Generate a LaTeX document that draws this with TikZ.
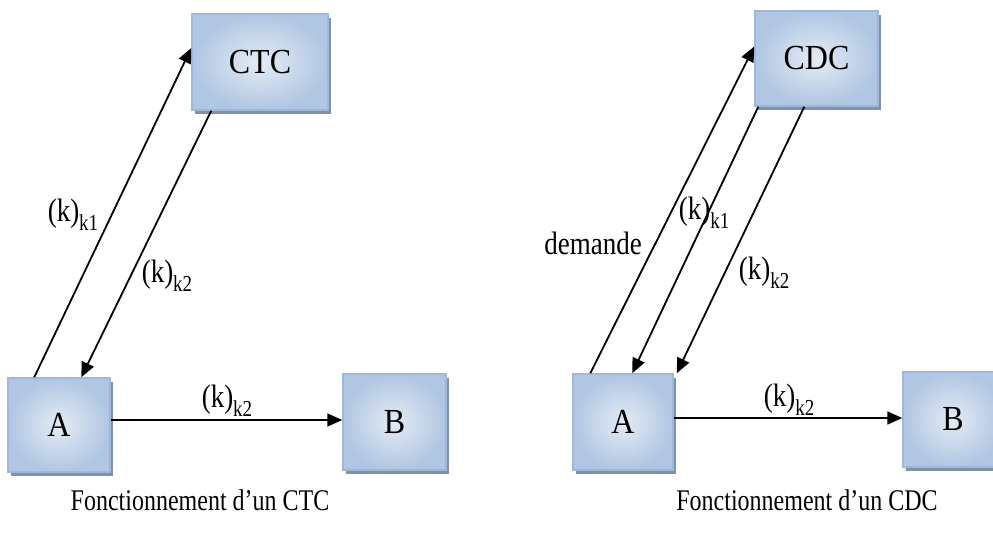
\documentclass[tikz,border=0pt]{standalone}
\usepackage{fontspec}
\setmainfont{Liberation Serif}
\usetikzlibrary{arrows.meta,shadows,calc}
\definecolor{boxedge}{HTML}{9DB8DA}
\definecolor{boxin}{HTML}{E4EBF5}
\definecolor{boxout}{HTML}{B0C6E2}
\definecolor{shadowgray}{HTML}{8391A5}
\newcommand{\kk}[1]{\scalebox{1}[1.2]{(k)\raisebox{-0.28em}{\fontsize{19}{19}\selectfont k#1}}}
\newcommand{\tall}[2]{\scalebox{1}[#1]{#2}}
\tikzset{
  blockbox/.style={draw=boxedge, line width=1.5pt, inner sep=0pt,
    inner color=boxin, outer color=boxout,
    general shadow={fill=shadowgray, shadow xshift=3pt, shadow yshift=-4pt},
    font=\fontsize{32}{32}\selectfont},
  flow/.style={line width=1.8pt, -{Triangle[length=15pt,width=13pt]}},
  lbl/.style={inner sep=0pt, font=\fontsize{27}{27}\selectfont},
  caption/.style={inner sep=0pt, font=\fontsize{24}{24}\selectfont}
}
\begin{document}
\begin{tikzpicture}[x=1pt,y=-1pt]
\useasboundingbox (0,0) rectangle (993,534);
\clip (0,0) rectangle (993,534);
% left diagram
\node[blockbox, minimum width=136pt, minimum height=96pt] (ctc) at (260,62) {\tall{1.1}{CTC}};
\node[blockbox, minimum width=102pt, minimum height=94pt] (aL) at (59,425) {\tall{1.1}{A}};
\node[blockbox, minimum width=103pt, minimum height=96pt] (bL) at (394.5,422) {\tall{1.1}{B}};
\draw[flow] ([xshift=27pt]aL.north west) -- ([yshift=14pt]ctc.west);
\draw[flow] ([xshift=20pt]ctc.south west) -- ([xshift=74pt]aL.north west);
\draw[flow] ([yshift=5pt]aL.east) -- ([yshift=5pt]aL.east -| bL.west);
\node[lbl] (l1) at (73,215) {\kk{1}};
\node[lbl] (l2) at (167,276) {\kk{2}};
\node[lbl] (l3) at (227,401) {\kk{2}};
\node[caption] (c1) at (200,500) {\tall{1.25}{Fonctionnement d’un CTC}};
% right diagram
\node[blockbox, minimum width=123pt, minimum height=95pt] (cdc) at (816.5,58.5) {\tall{1.1}{CDC}};
\node[blockbox, minimum width=100pt, minimum height=96pt] (aR) at (623,422) {\tall{1.1}{A}};
\node[blockbox, minimum width=100pt, minimum height=95pt] (bR) at (953,419.5) {\tall{1.1}{B}};
\draw[flow] ([xshift=18pt]aR.north west) -- ([yshift=12pt]cdc.west);
\draw[flow] ([xshift=4pt]cdc.south west) -- ([xshift=60pt]aR.north west);
\draw[flow] ([xshift=50pt]cdc.south west) -- ([xshift=3pt]aR.north east);
\draw[flow] ([yshift=4pt]aR.east) -- ([yshift=4pt]aR.east -| bR.west);
\node[lbl, anchor=east] (dem) at (642,243) {\tall{1.2}{demande}};
\node[lbl] (r1) at (704,213) {\kk{1}};
\node[lbl] (r2) at (764,273) {\kk{2}};
\node[lbl] (r3) at (789,400) {\kk{2}};
\node[caption] (c2) at (807,500) {\tall{1.25}{Fonctionnement d’un CDC}};
\end{tikzpicture}
\end{document}
